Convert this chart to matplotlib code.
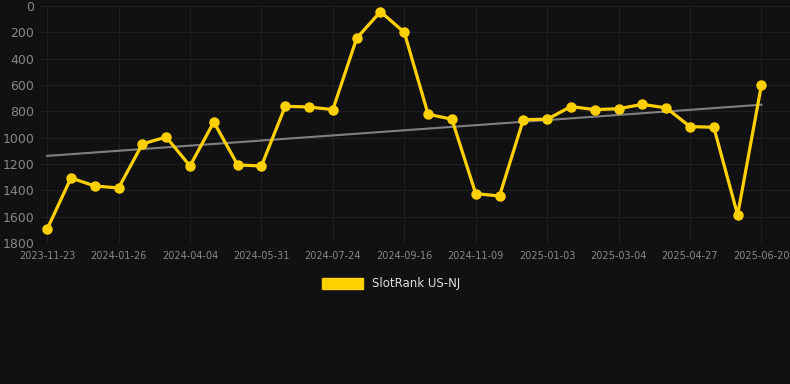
import matplotlib.pyplot as plt
import numpy as np

# SlotRank US-NJ over time (rank, lower is better)
tick_labels = ["2023-11-23", "2024-01-26", "2024-04-04", "2024-05-31", "2024-07-24",
               "2024-09-16", "2024-11-09", "2025-01-03", "2025-03-04", "2025-04-27",
               "2025-06-20"]
rank = [1695, 1306, 1367, 1382, 1048, 995, 1215, 881, 1207, 1215,
        762, 767, 787, 245, 43, 200, 822, 860, 1425, 1443,
        863, 860, 764, 787, 780, 747, 774, 916, 921, 1587, 600]

bg = "#111111"
gold = "#FFD000"

fig = plt.figure(figsize=(7.9, 3.84), dpi=100, facecolor=bg)
ax = fig.add_axes([40/790, 1 - 243/384, 750/790, 237/384], facecolor=bg)

x = np.arange(len(rank))
slope, icpt = np.polyfit(x, rank, 1)
ax.plot(x, slope * x + icpt, color="#808080", lw=1.5, zorder=2)
ax.plot(x, rank, color=gold, lw=2.3, marker="o", ms=6.5, zorder=3, label="SlotRank US-NJ")

ax.set_ylim(1800, 0)
ax.set_yticks(range(0, 1801, 200))
ax.set_xlim(-0.3, 31.2)
ax.set_xticks(x[::3])
ax.set_xticklabels(tick_labels)
ax.grid(color="#1f1f1f", lw=0.8)
ax.set_axisbelow(True)
for s in ax.spines.values():
    s.set_visible(False)
ax.tick_params(axis="y", colors="#888888", labelsize=9, length=0, pad=4)
ax.tick_params(axis="x", colors="#888888", labelsize=7, length=0, pad=6)

leg = fig.legend(handles=[plt.Rectangle((0, 0), 1, 1, color=gold)], labels=["SlotRank US-NJ"],
                 loc="center", bbox_to_anchor=(0.495, 1 - 284/384), frameon=False,
                 handlelength=3.5, handleheight=1.0, fontsize=8.5, labelcolor="#dddddd")

fig.savefig("out.png", facecolor=bg)
